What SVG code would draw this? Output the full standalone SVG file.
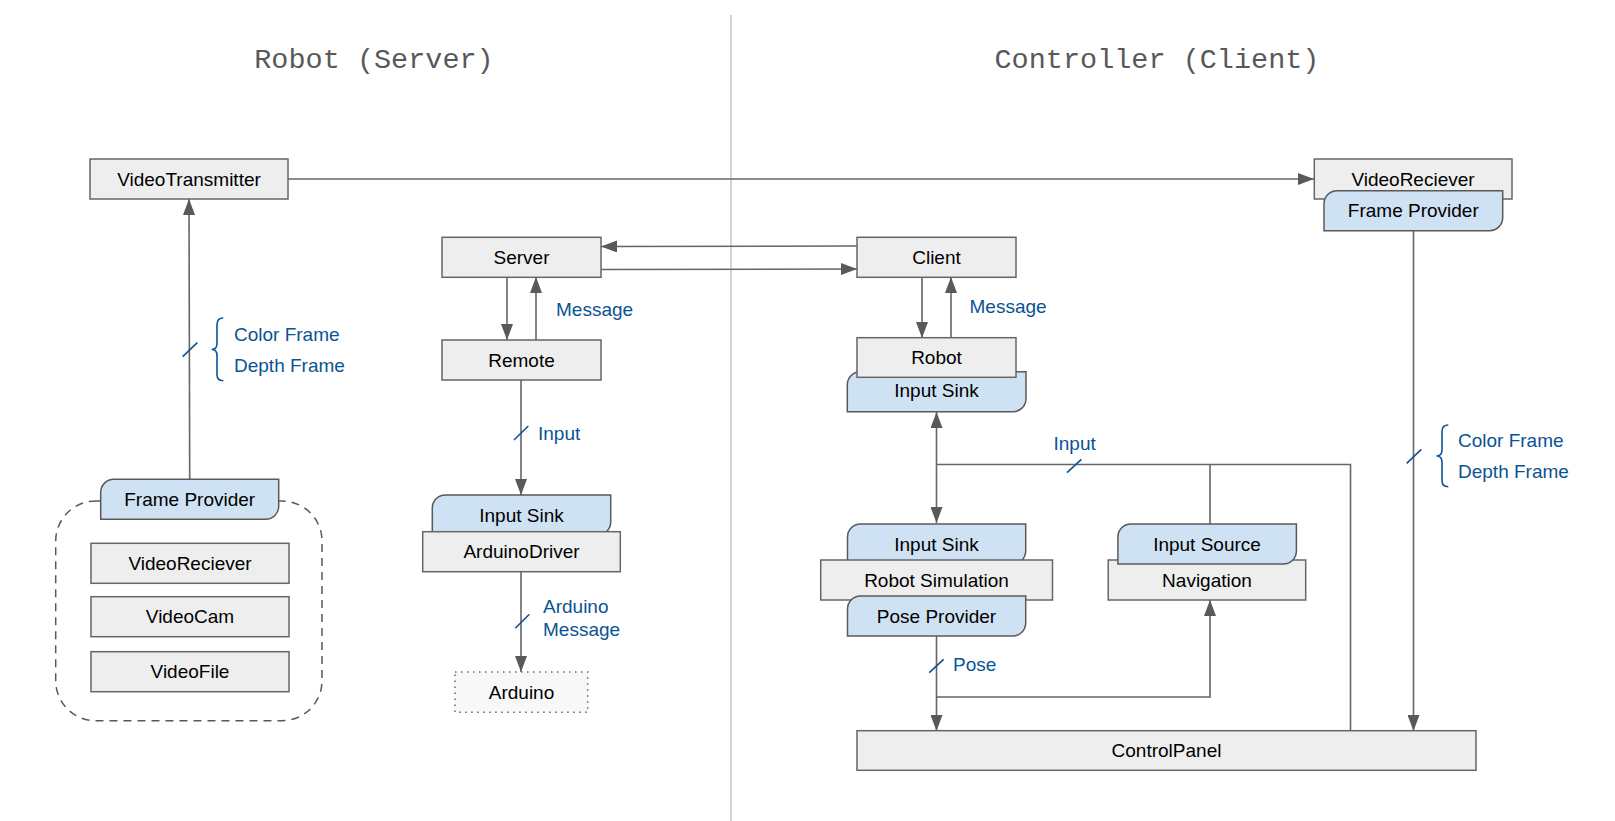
<svg xmlns="http://www.w3.org/2000/svg" width="1615" height="821" viewBox="0 0 1615 821">
<defs>
<style>
.box{fill:#eeeeee;stroke:#666666;stroke-width:1.5}
.tab{fill:#cfe2f3;stroke:#595959;stroke-width:1.5}
.t{font-family:"Liberation Sans",Arial,sans-serif;font-size:19px;fill:#000;text-anchor:middle}
.lb{font-family:"Liberation Sans",Arial,sans-serif;font-size:19px;fill:#0b5394}
.title{font-family:"Liberation Mono","Courier New",monospace;font-size:28.5px;fill:#595959;text-anchor:middle}
.ln{fill:none;stroke:#666666;stroke-width:1.6}
.arr{marker-end:url(#ah)}
.blue{fill:none;stroke:#0b5394;stroke-width:1.6}
</style>
<marker id="ah" viewBox="0 0 16 12" refX="16" refY="6" markerWidth="16" markerHeight="12" markerUnits="userSpaceOnUse" orient="auto-start-reverse">
<path d="M0,0 L16,6 L0,12 Z" fill="#595959"/>
</marker>
</defs>
<rect width="1615" height="821" fill="#ffffff"/>

<g id="titles">
<line x1="731" y1="15" x2="731" y2="821" stroke="#c4c4c4" stroke-width="1.5"/>
<text class="title" x="374" y="68">Robot (Server)</text>
<text class="title" x="1157" y="68">Controller (Client)</text>
</g>

<g id="connectors">
<line class="ln arr" x1="288" y1="179" x2="1314" y2="179"/>
<line class="ln arr" x1="189.7" y1="479" x2="189" y2="199"/>
<line class="ln arr" x1="857" y1="246" x2="601" y2="246.5"/>
<line class="ln arr" x1="601" y1="269.5" x2="857" y2="269"/>
<line class="ln arr" x1="507" y1="277" x2="507" y2="340"/>
<line class="ln arr" x1="536" y1="340" x2="536" y2="277"/>
<line class="ln arr" x1="521" y1="380" x2="521" y2="495"/>
<line class="ln arr" x1="521" y1="572" x2="521" y2="672"/>
<line class="ln arr" x1="922" y1="277" x2="922" y2="338"/>
<line class="ln arr" x1="951" y1="338" x2="951" y2="277"/>
<line class="ln" x1="936.5" y1="412" x2="936.5" y2="523" marker-start="url(#ah)" marker-end="url(#ah)"/>
<polyline class="ln" points="936.5,464.5 1350.5,464.5 1350.5,731"/>
<line class="ln" x1="1210" y1="464.5" x2="1210" y2="524"/>
<line class="ln arr" x1="936.5" y1="636" x2="936.5" y2="731"/>
<polyline class="ln arr" points="936.5,697 1210,697 1210,600"/>
<line class="ln arr" x1="1413.5" y1="231" x2="1413.5" y2="731"/>
</g>

<g id="labels">
<line class="blue" x1="182.7" y1="356.7" x2="197.3" y2="342.7"/>
<path class="blue" d="M223.3,318 Q217,318 217,324.5 L217,343.5 Q217,349.5 211.7,349.5 Q217,349.5 217,355.5 L217,374.5 Q217,380.7 223.3,380.7"/>
<text class="lb" x="234" y="341">Color Frame</text>
<text class="lb" x="234" y="372">Depth Frame</text>
<text class="lb" x="556" y="315.5">Message</text>
<line class="blue" x1="514" y1="440" x2="528.3" y2="426"/>
<text class="lb" x="538" y="440">Input</text>
<line class="blue" x1="515.3" y1="628.3" x2="529.3" y2="614.3"/>
<text class="lb" x="543" y="612.5">Arduino</text>
<text class="lb" x="543" y="635.5">Message</text>
<text class="lb" x="969.5" y="313">Message</text>
<line class="blue" x1="1067" y1="472.7" x2="1081.4" y2="459.3"/>
<text class="lb" x="1053.5" y="449.5">Input</text>
<line class="blue" x1="929.3" y1="672.7" x2="943.6" y2="659.3"/>
<text class="lb" x="953" y="670.5">Pose</text>
<line class="blue" x1="1406.7" y1="463.3" x2="1421.3" y2="449.3"/>
<path class="blue" d="M1448.3,425 Q1442,425 1442,431.5 L1442,450 Q1442,456 1436.5,456 Q1442,456 1442,462 L1442,480.5 Q1442,486.7 1448.3,486.7"/>
<text class="lb" x="1458" y="446.5">Color Frame</text>
<text class="lb" x="1458" y="477.5">Depth Frame</text>
</g>

<g id="VideoTransmitter">
<rect class="box" x="90" y="159" width="198" height="40"/>
<text class="t" x="189" y="185.7">VideoTransmitter</text>
</g>

<g id="FrameProviderGroup">
<rect x="55.7" y="501" width="266.3" height="219.7" rx="40" ry="40" fill="none" stroke="#595959" stroke-width="1.5" stroke-dasharray="8 6"/>
</g>

<g id="FrameProviderLeft">
<path class="tab" d="M100.7,519.3 L100.7,492.3 A13,13 0 0 1 113.7,479.3 L278.7,479.3 L278.7,506.3 A13,13 0 0 1 265.7,519.3 Z"/>
<text class="t" x="189.7" y="506">Frame Provider</text>
</g>

<g id="VideoRecieverLeft">
<rect class="box" x="91" y="543.3" width="198" height="40"/>
<text class="t" x="190" y="570">VideoReciever</text>
</g>
<g id="VideoCam">
<rect class="box" x="91" y="596.7" width="198" height="40"/>
<text class="t" x="190" y="623.4">VideoCam</text>
</g>
<g id="VideoFile">
<rect class="box" x="91" y="651.7" width="198" height="40"/>
<text class="t" x="190" y="678.4">VideoFile</text>
</g>

<g id="Server">
<rect class="box" x="442" y="237.3" width="159" height="40"/>
<text class="t" x="521.5" y="264">Server</text>
</g>
<g id="Remote">
<rect class="box" x="442" y="340" width="159" height="40"/>
<text class="t" x="521.5" y="366.7">Remote</text>
</g>

<g id="InputSinkArduino">
<path class="tab" d="M432.3,535 L432.3,508 A13,13 0 0 1 445.3,495 L610.7,495 L610.7,522 A13,13 0 0 1 597.7,535 Z"/>
<text class="t" x="521.5" y="521.5">Input Sink</text>
</g>
<g id="ArduinoDriver">
<rect class="box" x="422.7" y="531.7" width="197.6" height="40"/>
<text class="t" x="521.5" y="558.3">ArduinoDriver</text>
</g>
<g id="Arduino">
<rect x="455" y="672" width="132.7" height="40.3" fill="#f8f8f8" stroke="#666666" stroke-width="1.5" stroke-dasharray="1.5 4.5"/>
<text class="t" x="521.5" y="698.7">Arduino</text>
</g>

<g id="Client">
<rect class="box" x="857" y="237.3" width="159" height="40"/>
<text class="t" x="936.5" y="264">Client</text>
</g>

<g id="InputSinkRobot">
<path class="tab" d="M847.3,411.7 L847.3,384.7 A13,13 0 0 1 860.3,371.7 L1026,371.7 L1026,398.7 A13,13 0 0 1 1013,411.7 Z"/>
<text class="t" x="936.5" y="397.3">Input Sink</text>
</g>
<g id="Robot">
<rect class="box" x="857" y="337.7" width="159" height="39.6"/>
<text class="t" x="936.5" y="363.5">Robot</text>
</g>

<g id="InputSinkSim">
<path class="tab" d="M847.5,564 L847.5,537 A13,13 0 0 1 860.5,524 L1025.7,524 L1025.7,551 A13,13 0 0 1 1012.7,564 Z"/>
<text class="t" x="936.5" y="551">Input Sink</text>
</g>
<g id="RobotSimulation">
<rect class="box" x="820.7" y="560" width="231.8" height="40"/>
<text class="t" x="936.5" y="586.7">Robot Simulation</text>
</g>
<g id="PoseProvider">
<path class="tab" d="M847.5,636 L847.5,609 A13,13 0 0 1 860.5,596 L1025.7,596 L1025.7,623 A13,13 0 0 1 1012.7,636 Z"/>
<text class="t" x="936.5" y="622.5">Pose Provider</text>
</g>

<g id="Navigation">
<rect class="box" x="1108.2" y="560" width="197.5" height="40"/>
<text class="t" x="1207" y="586.7">Navigation</text>
</g>
<g id="InputSource">
<path class="tab" d="M1117.9,564 L1117.9,537 A13,13 0 0 1 1130.9,524 L1296.4,524 L1296.4,551 A13,13 0 0 1 1283.4,564 Z"/>
<text class="t" x="1207" y="551">Input Source</text>
</g>

<g id="VideoRecieverRight">
<rect class="box" x="1314.3" y="159" width="197.7" height="40"/>
<text class="t" x="1413" y="185.7">VideoReciever</text>
</g>
<g id="FrameProviderRight">
<path class="tab" d="M1324,230.7 L1324,203.7 A13,13 0 0 1 1337,190.7 L1502.7,190.7 L1502.7,217.7 A13,13 0 0 1 1489.7,230.7 Z"/>
<text class="t" x="1413.3" y="216.8">Frame Provider</text>
</g>

<g id="ControlPanel">
<rect class="box" x="857" y="730.7" width="619" height="39.6"/>
<text class="t" x="1166.5" y="756.8">ControlPanel</text>
</g>
</svg>
